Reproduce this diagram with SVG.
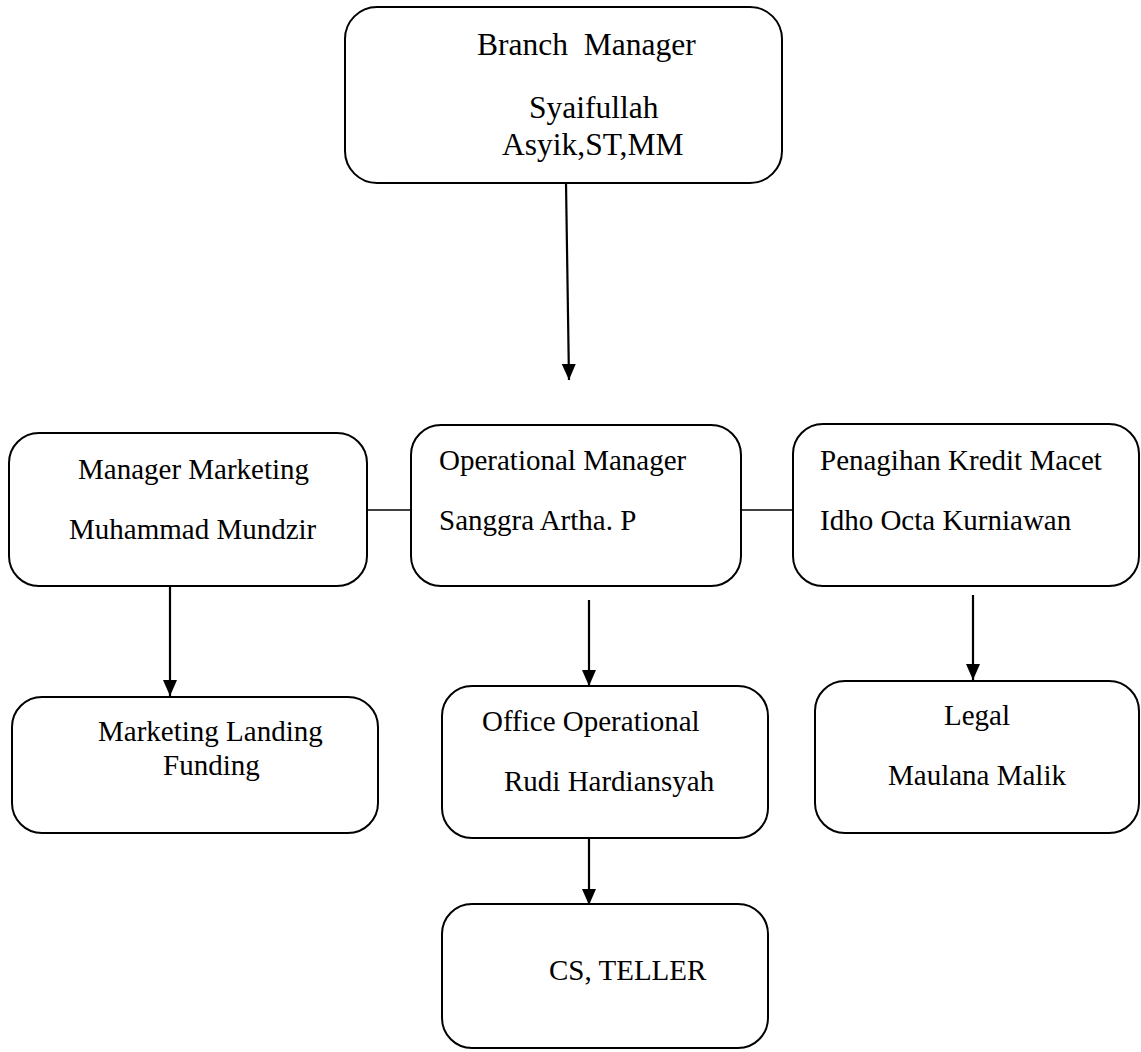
<svg xmlns="http://www.w3.org/2000/svg" width="1141" height="1052" viewBox="0 0 1141 1052">
<style>
.box{fill:#fff;stroke:#000;stroke-width:2}
.t{font-family:"Liberation Serif","Times New Roman",serif;font-size:29px;fill:#000}
.tb{font-size:31.5px}
.ln{stroke:#000;stroke-width:2.2;fill:none}
.hl{stroke:#000;stroke-width:1.5;fill:none}
</style>
<defs>
<marker id="ah" markerUnits="userSpaceOnUse" markerWidth="16" markerHeight="16" viewBox="0 0 16 16" refX="16" refY="8" orient="auto">
<path d="M0,1 L16,8 L0,15 Z" fill="#000"/>
</marker>
</defs>
<rect width="1141" height="1052" fill="#fff"/>
<g id="connectors">
<line class="ln" x1="566" y1="183" x2="569" y2="380" marker-end="url(#ah)"/>
<line class="hl" x1="367" y1="510" x2="411" y2="510"/>
<line class="hl" x1="741" y1="510" x2="793" y2="510"/>
<line class="ln" x1="170" y1="586" x2="170" y2="696" marker-end="url(#ah)"/>
<line class="ln" x1="589" y1="600" x2="589" y2="686" marker-end="url(#ah)"/>
<line class="ln" x1="973" y1="595" x2="973" y2="680" marker-end="url(#ah)"/>
<line class="ln" x1="589" y1="838" x2="589" y2="905" marker-end="url(#ah)"/>
</g>
<g id="branch-manager">
<rect class="box" x="345" y="7" width="437" height="176" rx="32"/>
<text class="t tb" x="477" y="55" xml:space="preserve">Branch  Manager</text>
<text class="t tb" x="529" y="118">Syaifullah</text>
<text class="t tb" x="502" y="155">Asyik,ST,MM</text>
</g>
<g id="manager-marketing">
<rect class="box" x="9" y="433" width="358" height="153" rx="30"/>
<text class="t" x="78" y="479">Manager Marketing</text>
<text class="t" x="69" y="539">Muhammad Mundzir</text>
</g>
<g id="operational-manager">
<rect class="box" x="411" y="425" width="330" height="161" rx="30"/>
<text class="t" x="439" y="470">Operational Manager</text>
<text class="t" x="439" y="530">Sanggra Artha. P</text>
</g>
<g id="penagihan">
<rect class="box" x="793" y="424" width="346" height="162" rx="30"/>
<text class="t" x="820" y="470">Penagihan Kredit Macet</text>
<text class="t" x="820" y="530">Idho Octa Kurniawan</text>
</g>
<g id="marketing-landing">
<rect class="box" x="12" y="697" width="366" height="136" rx="30"/>
<text class="t" x="98" y="741">Marketing Landing</text>
<text class="t" x="163" y="775">Funding</text>
</g>
<g id="office-operational">
<rect class="box" x="442" y="686" width="326" height="152" rx="30"/>
<text class="t" x="482" y="731">Office Operational</text>
<text class="t" x="504" y="791">Rudi Hardiansyah</text>
</g>
<g id="legal">
<rect class="box" x="815" y="681" width="324" height="152" rx="30"/>
<text class="t" x="944" y="725">Legal</text>
<text class="t" x="888" y="785">Maulana Malik</text>
</g>
<g id="cs-teller">
<rect class="box" x="442" y="904" width="326" height="144" rx="30"/>
<text class="t" x="549" y="980">CS, TELLER</text>
</g>
</svg>
